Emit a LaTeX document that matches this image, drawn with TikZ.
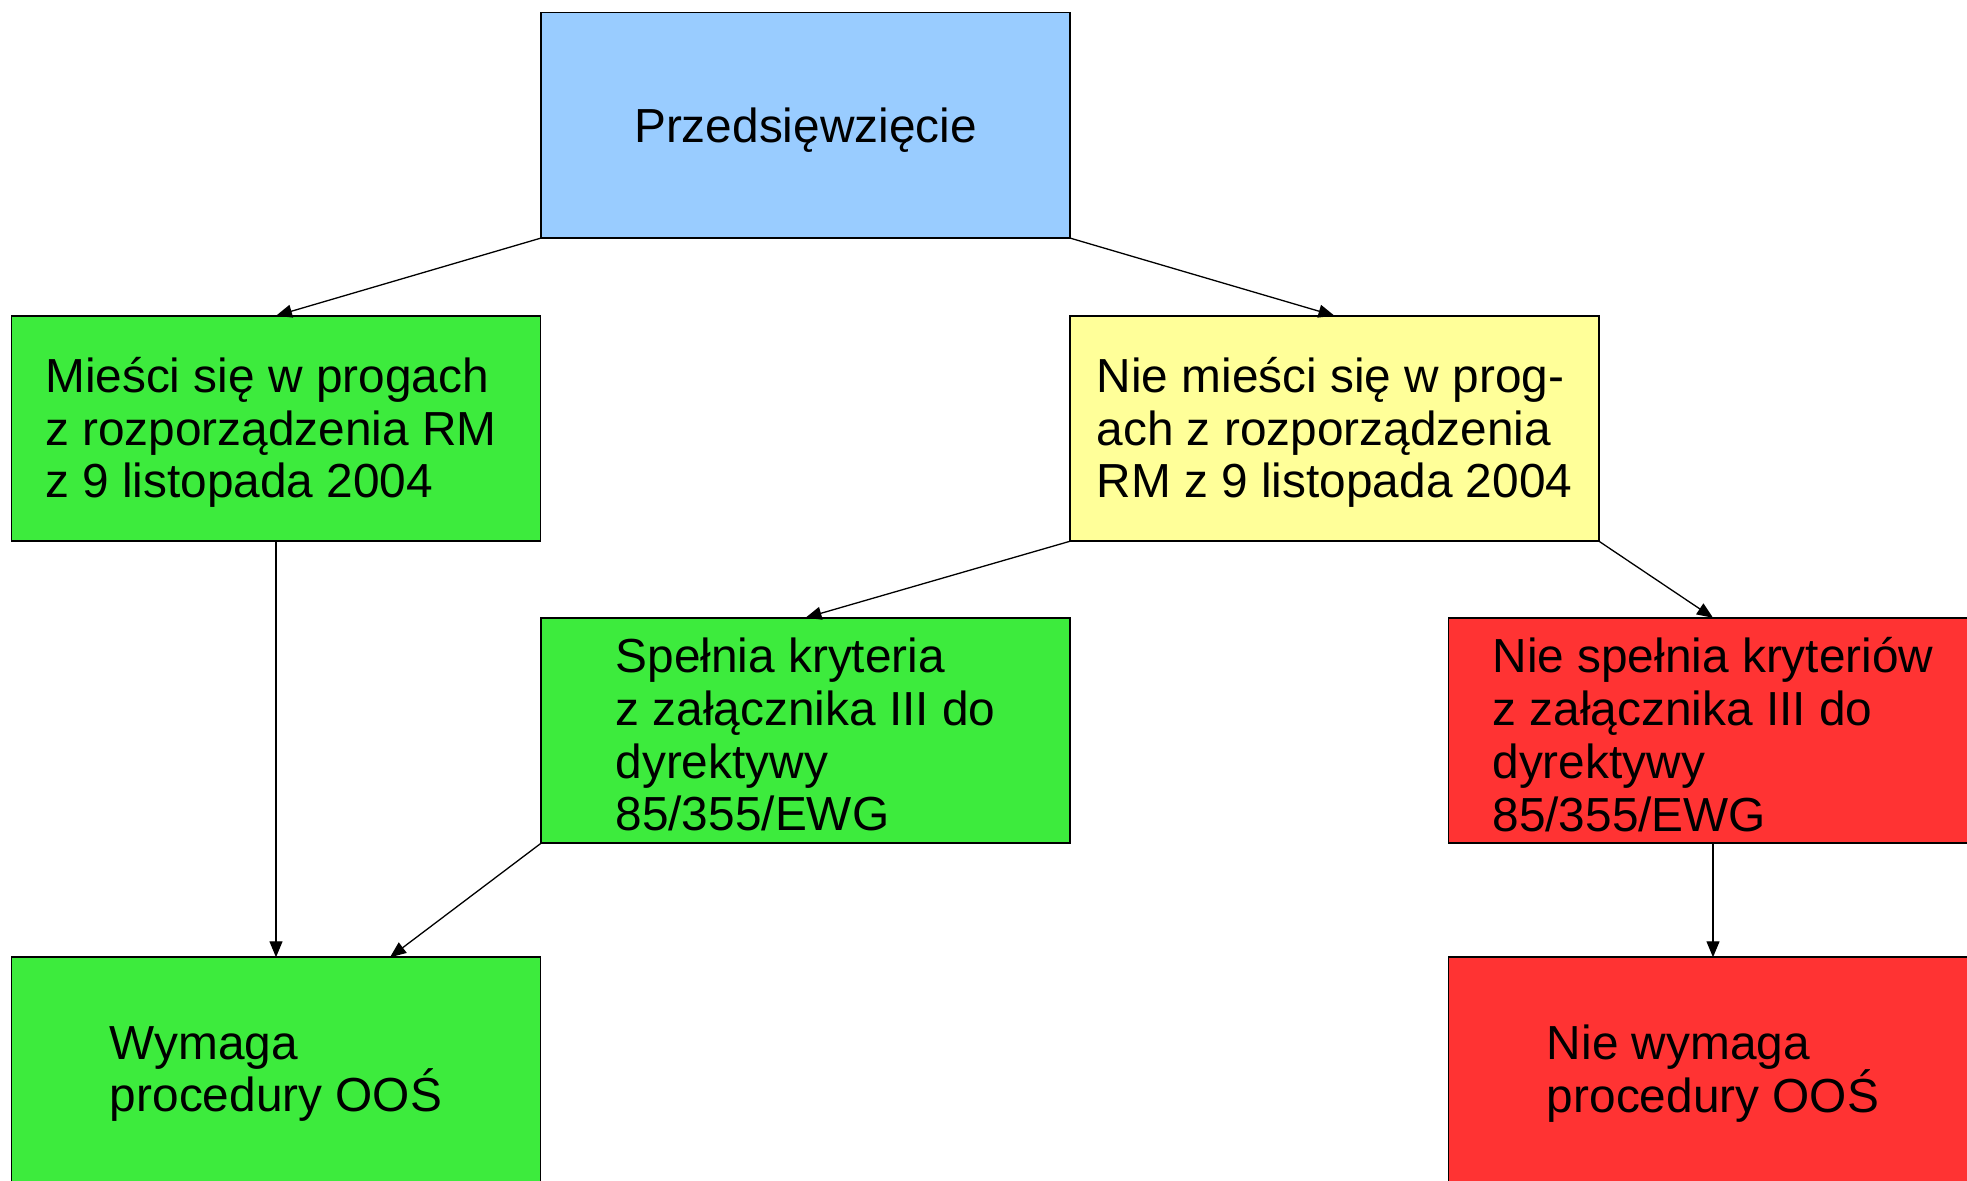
\documentclass[tikz,border=0pt]{standalone}
\usepackage{fontspec}
\setmainfont{Liberation Sans}
\usetikzlibrary{arrows.meta}
\definecolor{cblue}{HTML}{99CCFF}
\definecolor{cgreen}{HTML}{3DEB3D}
\definecolor{cyellow}{HTML}{FFFF99}
\definecolor{cred}{HTML}{FF3333}
\begin{document}
\begin{tikzpicture}[x=0.5pt,y=-0.5pt,
  box/.style={draw=black, line width=0.9pt, rectangle, minimum width=264.5pt, minimum height=112.75pt,
    inner sep=0pt, outer sep=0pt},
  txt/.style={align=left, inner sep=0pt, font=\fontsize{23.9pt}{26.4pt}\selectfont},
  conn/.style={draw=black, line width=0.65pt, -{Triangle[length=8pt,width=6.5pt]}}]
\clip (0,0) rectangle (1967,1180);
\fill[white] (0,0) rectangle (1967,1180);
\node[box, fill=cblue] (top) at (805.5,125.3) {};
\node[box, fill=cgreen] (ml) at (276,428.5) {};
\node[box, fill=cyellow] (yel) at (1334.5,428.5) {};
\node[box, fill=cgreen] (mid) at (805.5,730.5) {};
\node[box, fill=cred] (red) at (1713,730.5) {};
\node[box, fill=cgreen] (bl) at (276,1070) {};
\node[box, fill=cred] (br) at (1713,1070) {};
\node[txt] (topt) at ([yshift=-2.4pt]top.center) {Przedsięwzięcie};
\node[txt] (mlt) at ([xshift=-2.5pt,yshift=-2pt]ml.center) {Mieści się w progach\\z rozporządzenia RM\\z 9 listopada 2004};
\node[txt] (yelt) at ([yshift=-2pt]yel.center) {Nie mieści się w prog-\\ach z rozporządzenia\\RM z 9 listopada 2004};
\node[txt] (midt) at ([yshift=-2pt]mid.center) {Spełnia kryteria\\z załącznika III do\\dyrektywy\\85/355/EWG};
\node[txt] (redt) at ([yshift=-2pt]red.center) {Nie spełnia kryteriów\\z załącznika III do\\dyrektywy\\85/355/EWG};
\node[txt] (blt) at ([yshift=-2pt]bl.center) {Wymaga\\procedury OOŚ};
\node[txt] (brt) at ([yshift=-2pt]br.center) {Nie wymaga\\procedury OOŚ};
\draw[conn] (top.south west) -- (ml.north);
\draw[conn] (top.south east) -- (yel.north);
\draw[conn] (yel.south west) -- (mid.north);
\draw[conn] (yel.south east) -- (red.north);
\draw[conn] (ml.south) -- (bl.north);
\draw[conn] (mid.south west) -- ([xshift=57pt]bl.north);
\draw[conn] (red.south) -- (br.north);
\end{tikzpicture}
\end{document}
